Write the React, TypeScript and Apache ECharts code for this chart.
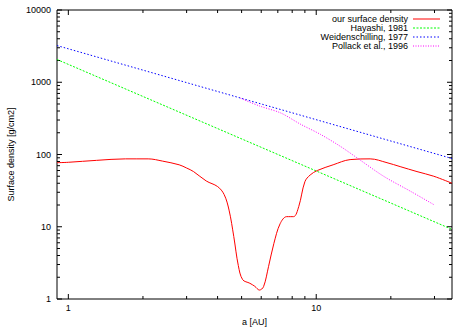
import React, { useEffect, useRef } from 'react';
import * as echarts from 'echarts';

// ---- data ----
const surfaceA = [0.9, 1.0, 1.3, 1.7, 2.1, 2.4, 2.8, 3.0, 3.2, 3.6, 4.0, 4.25, 4.45, 4.65, 4.85, 5.05, 5.4, 5.65, 5.9, 6.13, 6.42, 6.75, 7.15, 7.6, 8.1, 8.5, 9.0, 9.45, 10.1, 11.7, 13.7, 16.5, 19.3, 21.8, 25.5, 29.8, 35.3];
const surfaceS = [77, 78, 83, 87, 87, 81, 72, 65, 58, 43, 36, 28, 17, 7.3, 2.9, 1.85, 1.65, 1.5, 1.33, 1.48, 2.8, 5.9, 11, 13.8, 13.8, 19, 42, 52, 60, 72, 85, 87, 77, 68, 58, 50, 40];

const hayashiA = [0.9, 35.3];
const hayashiS = [2065, 9.2];

const weidenA = [0.9, 35.3];
const weidenS = [3220, 88];

const pollackA = [4.95, 5.9, 7.2, 8.6, 10.4, 12.5, 14.6, 18.7, 24, 30];
const pollackS = [600, 470, 375, 265, 190, 130, 90, 50, 31, 20];

const seriesNames = ['our surface density', 'Hayashi, 1981', 'Weidenschilling, 1977', 'Pollack et al., 1996'];

const xMajorTicks = [1, 10];
const xMinorTicks = [2, 3, 4, 5, 6, 7, 8, 9, 20, 30];
const yMajorTicks = [1, 10, 100, 1000, 10000];
const yMinorTicks = [
  2, 3, 4, 5, 6, 7, 8, 9,
  20, 30, 40, 50, 60, 70, 80, 90,
  200, 300, 400, 500, 600, 700, 800, 900,
  2000, 3000, 4000, 5000, 6000, 7000, 8000, 9000,
];

const X_MIN = 0.9;
const X_MAX = 35.3;
const Y_MIN = 1;
const Y_MAX = 10000;

const FONT = '"Liberation Sans", Arial, Helvetica, sans-serif';

const COLORS = ['#ff0000', '#00ff00', '#0000ff', '#ff00ff'];
const DASHES: any[] = ['solid', [2, 1.5], [1.5, 2], [1, 1.5]];

const zip = (a: number[], b: number[]) => a.map((v, i) => [v, b[i]]);

function xTickSeries(ticks: number[], len: number) {
  return {
    type: 'custom',
    silent: true,
    clip: false,
    data: ticks.map((v) => [v, Y_MIN]),
    renderItem: (params: any, api: any) => {
      const p = api.coord([api.value(0), Y_MIN]);
      const cs = params.coordSys;
      const bottom = cs.y + cs.height;
      const top = cs.y;
      return {
        type: 'group',
        children: [
          { type: 'line', shape: { x1: p[0], y1: bottom, x2: p[0], y2: bottom - len }, style: { stroke: '#000', lineWidth: 1 } },
          { type: 'line', shape: { x1: p[0], y1: top, x2: p[0], y2: top + len }, style: { stroke: '#000', lineWidth: 1 } },
        ],
      };
    },
  };
}

function yTickSeries(ticks: number[], len: number) {
  return {
    type: 'custom',
    silent: true,
    clip: false,
    data: ticks.map((v) => [X_MIN, v]),
    renderItem: (params: any, api: any) => {
      const p = api.coord([X_MIN, api.value(1)]);
      const cs = params.coordSys;
      const left = cs.x;
      const right = cs.x + cs.width;
      return {
        type: 'group',
        children: [
          { type: 'line', shape: { x1: left, y1: p[1], x2: left + len, y2: p[1] }, style: { stroke: '#000', lineWidth: 1 } },
          { type: 'line', shape: { x1: right, y1: p[1], x2: right - len, y2: p[1] }, style: { stroke: '#000', lineWidth: 1 } },
        ],
      };
    },
  };
}

const pow10Label = (v: number) => {
  const l = Math.log10(v);
  const r = Math.round(l);
  if (Math.abs(l - r) < 1e-6) return String(Math.round(Math.pow(10, r)));
  return '';
};

// legend drawn as graphic elements (gnuplot style: text right-aligned, sample on the right)
const LEGEND_TEXT_RIGHT = 408;
const LEGEND_LINE_X1 = 413;
const LEGEND_LINE_X2 = 440;
const LEGEND_TOP = 19;
const LEGEND_STEP = 9;

function legendGraphics() {
  const items: any[] = [];
  seriesNames.forEach((name, i) => {
    const y = LEGEND_TOP + LEGEND_STEP * i;
    items.push({
      type: 'text',
      x: LEGEND_TEXT_RIGHT,
      y,
      silent: true,
      style: {
        text: name,
        fill: '#000',
        font: `9px ${FONT}`,
        align: 'right',
        verticalAlign: 'middle',
      },
    });
    const lineStyle: any = { stroke: COLORS[i], lineWidth: 1 };
    if (DASHES[i] !== 'solid') lineStyle.lineDash = DASHES[i];
    items.push({
      type: 'line',
      silent: true,
      shape: { x1: LEGEND_LINE_X1, y1: y, x2: LEGEND_LINE_X2, y2: y },
      style: lineStyle,
    });
  });
  return items;
}

export default function App() {
  const ref = useRef<HTMLDivElement>(null);

  useEffect(() => {
    if (!ref.current) return;
    const chart = echarts.init(ref.current, null, { renderer: 'svg' });
    chart.setOption({
      animation: false,
      backgroundColor: '#fff',
      textStyle: { fontFamily: FONT },
      grid: {
        left: 57,
        top: 10,
        right: 15,
        bottom: 28,
        show: true,
        borderColor: '#000',
        borderWidth: 1,
        containLabel: false,
        outerBoundsMode: 'none',
      },
      graphic: legendGraphics(),
      xAxis: {
        type: 'log',
        logBase: 10,
        min: X_MIN,
        max: X_MAX,
        axisLine: { show: false },
        axisTick: { show: false },
        splitLine: { show: false },
        axisLabel: { formatter: pow10Label, color: '#000', fontSize: 9, margin: 4, fontFamily: FONT },
        name: 'a [AU]',
        nameLocation: 'middle',
        nameGap: 18,
        nameTextStyle: { color: '#000', fontSize: 9, fontFamily: FONT },
      },
      yAxis: {
        type: 'log',
        logBase: 10,
        min: Y_MIN,
        max: Y_MAX,
        axisLine: { show: false },
        axisTick: { show: false },
        splitLine: { show: false },
        axisLabel: { formatter: pow10Label, color: '#000', fontSize: 9, margin: 6, fontFamily: FONT },
        name: 'Surface density [g/cm2]',
        nameLocation: 'middle',
        nameGap: 40,
        nameTextStyle: { color: '#000', fontSize: 9, fontFamily: FONT },
      },
      series: [
        {
          name: seriesNames[0],
          type: 'line',
          data: zip(surfaceA, surfaceS),
          symbol: 'none',
          smooth: 0.35,
          lineStyle: { color: COLORS[0], width: 1, type: DASHES[0] },
          itemStyle: { color: COLORS[0] },
        },
        {
          name: seriesNames[1],
          type: 'line',
          data: zip(hayashiA, hayashiS),
          symbol: 'none',
          lineStyle: { color: COLORS[1], width: 1, type: DASHES[1] },
          itemStyle: { color: COLORS[1] },
        },
        {
          name: seriesNames[2],
          type: 'line',
          data: zip(weidenA, weidenS),
          symbol: 'none',
          lineStyle: { color: COLORS[2], width: 1, type: DASHES[2] },
          itemStyle: { color: COLORS[2] },
        },
        {
          name: seriesNames[3],
          type: 'line',
          data: zip(pollackA, pollackS),
          symbol: 'none',
          smooth: 0.3,
          lineStyle: { color: COLORS[3], width: 1, type: DASHES[3] },
          itemStyle: { color: COLORS[3] },
        },
        xTickSeries(xMajorTicks, 5),
        xTickSeries(xMinorTicks, 3),
        yTickSeries(yMajorTicks, 5),
        yTickSeries(yMinorTicks, 3),
      ],
    });
    return () => chart.dispose();
  }, []);

  return (
    <div
      ref={ref}
      style={{ position: 'absolute', left: 0, top: 0, width: 467, height: 327, background: '#fff' }}
    />
  );
}
